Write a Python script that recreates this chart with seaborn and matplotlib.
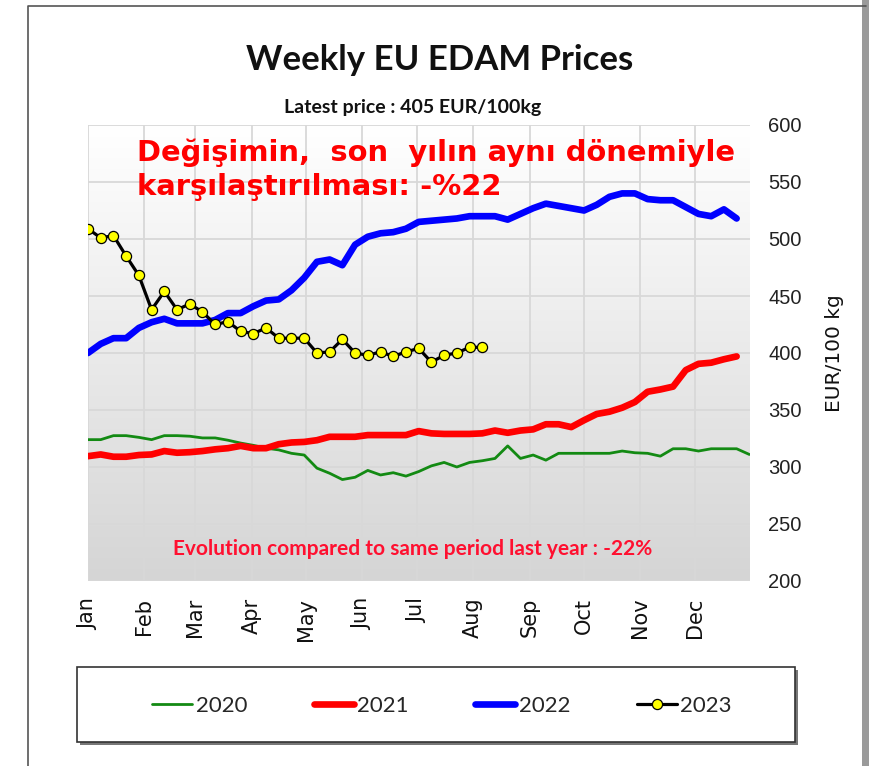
## Weekly EU EDAM prices

import matplotlib
matplotlib.use("Agg")
import matplotlib.pyplot as plt
import matplotlib.patheffects as pe
from matplotlib.colors import LinearSegmentedColormap
from matplotlib.patches import Rectangle
from matplotlib.lines import Line2D
import seaborn as sns
import numpy as np
import pandas as pd

#----------------------------------------------------
# data (EUR/100kg, one value per week)
#----------------------------------------------------

years = ["2020", "2021", "2022", "2023"]

prices_2020 = [324, 324, 327.5, 327.5, 326, 324, 327.5, 327.5, 327, 325.5,
               325.5, 323.5, 321, 319, 316.5, 315, 312, 310.5, 299, 294.5,
               289, 291, 297, 293, 295, 292, 296, 301, 304, 300,
               304, 305.5, 307.5, 318.5, 307.5, 310.5, 306, 312, 312, 312,
               312, 312, 314, 312.5, 312, 309.5, 316, 316, 314, 316,
               316, 316, 311]

prices_2021 = [309.5, 311, 309, 309, 310.5, 311, 314, 312.5, 313, 314,
               315.5, 316.5, 318.5, 316.5, 316.5, 320, 321.5, 322, 323.5, 326.5,
               326.5, 326.5, 328, 328, 328, 328, 331.5, 329.5, 329, 329,
               329, 329.5, 332, 330, 332, 333, 337.5, 337.5, 335, 341,
               346.5, 348.5, 352, 357, 366, 368, 370.5, 385, 390.5, 391.5,
               394.5, 397]

prices_2022 = [400, 408, 413, 413, 422, 427, 430, 426, 426, 426,
               429, 435, 435, 441, 446, 447, 455, 466, 480, 482,
               477, 495, 502, 505, 506, 509, 515, 516, 517, 518,
               520, 520, 520, 517, 522, 527, 531, 529, 527, 525,
               530, 537, 540, 540, 535, 534, 534, 528, 522, 520,
               526, 518]

prices_2023 = [509, 501, 503, 485, 468, 438, 454, 438, 443, 436,
               425, 427.5, 419, 417, 422, 413, 413, 413, 400, 401,
               412, 400, 398, 401, 397, 401, 404, 392, 398, 400,
               405, 405]

month_labels = ["Jan", "Feb", "Mar", "Apr", "May", "Jun",
                "Jul", "Aug", "Sep", "Oct", "Nov", "Dec"]
month_first_day = [0, 31, 59, 90, 120, 151, 181, 212, 243, 273, 304, 334]

y_ticks = [200, 250, 300, 350, 400, 450, 500, 550, 600]

#----------------------------------------------------
# helpers
#----------------------------------------------------

NARROW = ["Lato", "DejaVu Sans"]
W, H = 881, 766

def fx(px):
    return px / W

def fy(py):
    return 1 - py / H

def to_frame(year, values):
    return pd.DataFrame({"week": np.arange(len(values)), "price": values, "year": year})

#----------------------------------------------------
# main
#----------------------------------------------------

def main():
    sns.set_style("white")
    plt.rcParams["font.family"] = ["DejaVu Sans"]

    fig = plt.figure(figsize=(W / 100, H / 100), dpi=100)
    fig.patch.set_facecolor("white")
    ax = fig.add_axes([fx(88), fy(581), fx(750 - 88), (581 - 125) / H])

    x_max = 52.05

    # background gradient
    cmap = LinearSegmentedColormap.from_list("bg", ["#ffffff", "#d5d5d5"])
    ax.imshow(np.linspace(0, 1, 256).reshape(-1, 1), cmap=cmap, aspect="auto",
              extent=(0, x_max, 200, 600), zorder=0)

    shadow = [pe.SimpleLineShadow(offset=(2.5, -2.5), shadow_color="black", alpha=0.85), pe.Normal()]

    sns.lineplot(data=to_frame("2020", prices_2020), x="week", y="price", ax=ax,
                 color="#138a13", linewidth=2.0, label="2020", zorder=3)
    sns.lineplot(data=to_frame("2021", prices_2021), x="week", y="price", ax=ax,
                 color="#ff0000", linewidth=4.8, label="2021", zorder=4,
                 solid_capstyle="round")
    sns.lineplot(data=to_frame("2022", prices_2022), x="week", y="price", ax=ax,
                 color="#0000ff", linewidth=4.8, label="2022", zorder=5,
                 solid_capstyle="round")
    sns.lineplot(data=to_frame("2023", prices_2023), x="week", y="price", ax=ax,
                 color="black", linewidth=2.3, label="2023", zorder=6,
                 marker="o", markersize=7.3, markerfacecolor="#ffff00",
                 markeredgecolor="black", markeredgewidth=0.9,
                 path_effects=shadow)

    handles, labels = ax.get_legend_handles_labels()
    if ax.get_legend() is not None:
        ax.get_legend().remove()

    ax.set_xlim(0, x_max)
    ax.set_ylim(200, 600)

    # month ticks
    ax.set_xticks([d / 7 for d in month_first_day])
    ax.set_xticklabels(month_labels, rotation=90, fontsize=15, color="#111111")
    ax.tick_params(axis="x", length=0, pad=12)

    # right value axis
    ax.yaxis.tick_right()
    ax.set_yticks(y_ticks)
    ax.set_yticklabels([str(v) for v in y_ticks], fontsize=14.5,
                       family=["Liberation Sans", "DejaVu Sans"], color="#222222")
    ax.tick_params(axis="y", length=0, pad=13)
    ax.yaxis.set_label_position("right")
    ax.set_ylabel("EUR/100 kg", fontsize=14.5, labelpad=17, color="#111111")
    ax.set_xlabel("")

    ax.grid(True, color="#d8d8d8", linewidth=1.3)
    ax.set_axisbelow(True)
    for s in ax.spines.values():
        s.set_visible(False)

    # texts
    fig.text(fx(440), fy(70), "Weekly EU EDAM Prices", ha="center", va="baseline",
             fontsize=25, fontweight="bold", family=NARROW, color="#111111")
    fig.text(fx(413), fy(113), "Latest price : 405 EUR/100kg", ha="center", va="baseline",
             fontsize=14, fontweight="bold", family=NARROW, color="#111111")
    fig.text(fx(137), fy(161), "Değişimin,  son  yılın aynı dönemiyle", ha="left",
             va="baseline", fontsize=20.9, fontweight="bold", color="#ff0000")
    fig.text(fx(137), fy(195), "karşılaştırılması: -%22", ha="left",
             va="baseline", fontsize=20.9, fontweight="bold", color="#ff0000")
    fig.text(fx(413), fy(555), "Evolution compared to same period last year : -22%",
             ha="center", va="baseline", fontsize=15, fontweight="bold",
             family=NARROW, color="#ff1030")

    # outer frame
    fig.add_artist(Line2D([fx(28), fx(28), fx(866)], [0, fy(6), fy(6)],
                          transform=fig.transFigure, color="#555555", linewidth=1.2))
    fig.add_artist(Rectangle((fx(862), 0), fx(7), 1, transform=fig.transFigure,
                             facecolor="#9a9a9a", edgecolor="none"))

    # legend box
    fig.add_artist(Rectangle((fx(80), fy(745)), fx(795 - 77), (742 - 667) / H,
                             transform=fig.transFigure, facecolor="#777777",
                             edgecolor="none"))
    fig.add_artist(Rectangle((fx(77), fy(742)), fx(795 - 77), (742 - 667) / H,
                             transform=fig.transFigure, facecolor="white",
                             edgecolor="#333333", linewidth=1.2))
    for h in handles:
        h.set_path_effects([])
    fig.legend(handles, labels, loc="center", bbox_to_anchor=(fx(442), fy(706)),
               ncol=4, frameon=False, handlelength=1.8, handletextpad=0.15,
               columnspacing=3.0, prop={"family": NARROW, "size": 16})

    fig.savefig("out.png", dpi=100)
    return


if __name__ == '__main__':
    main()
